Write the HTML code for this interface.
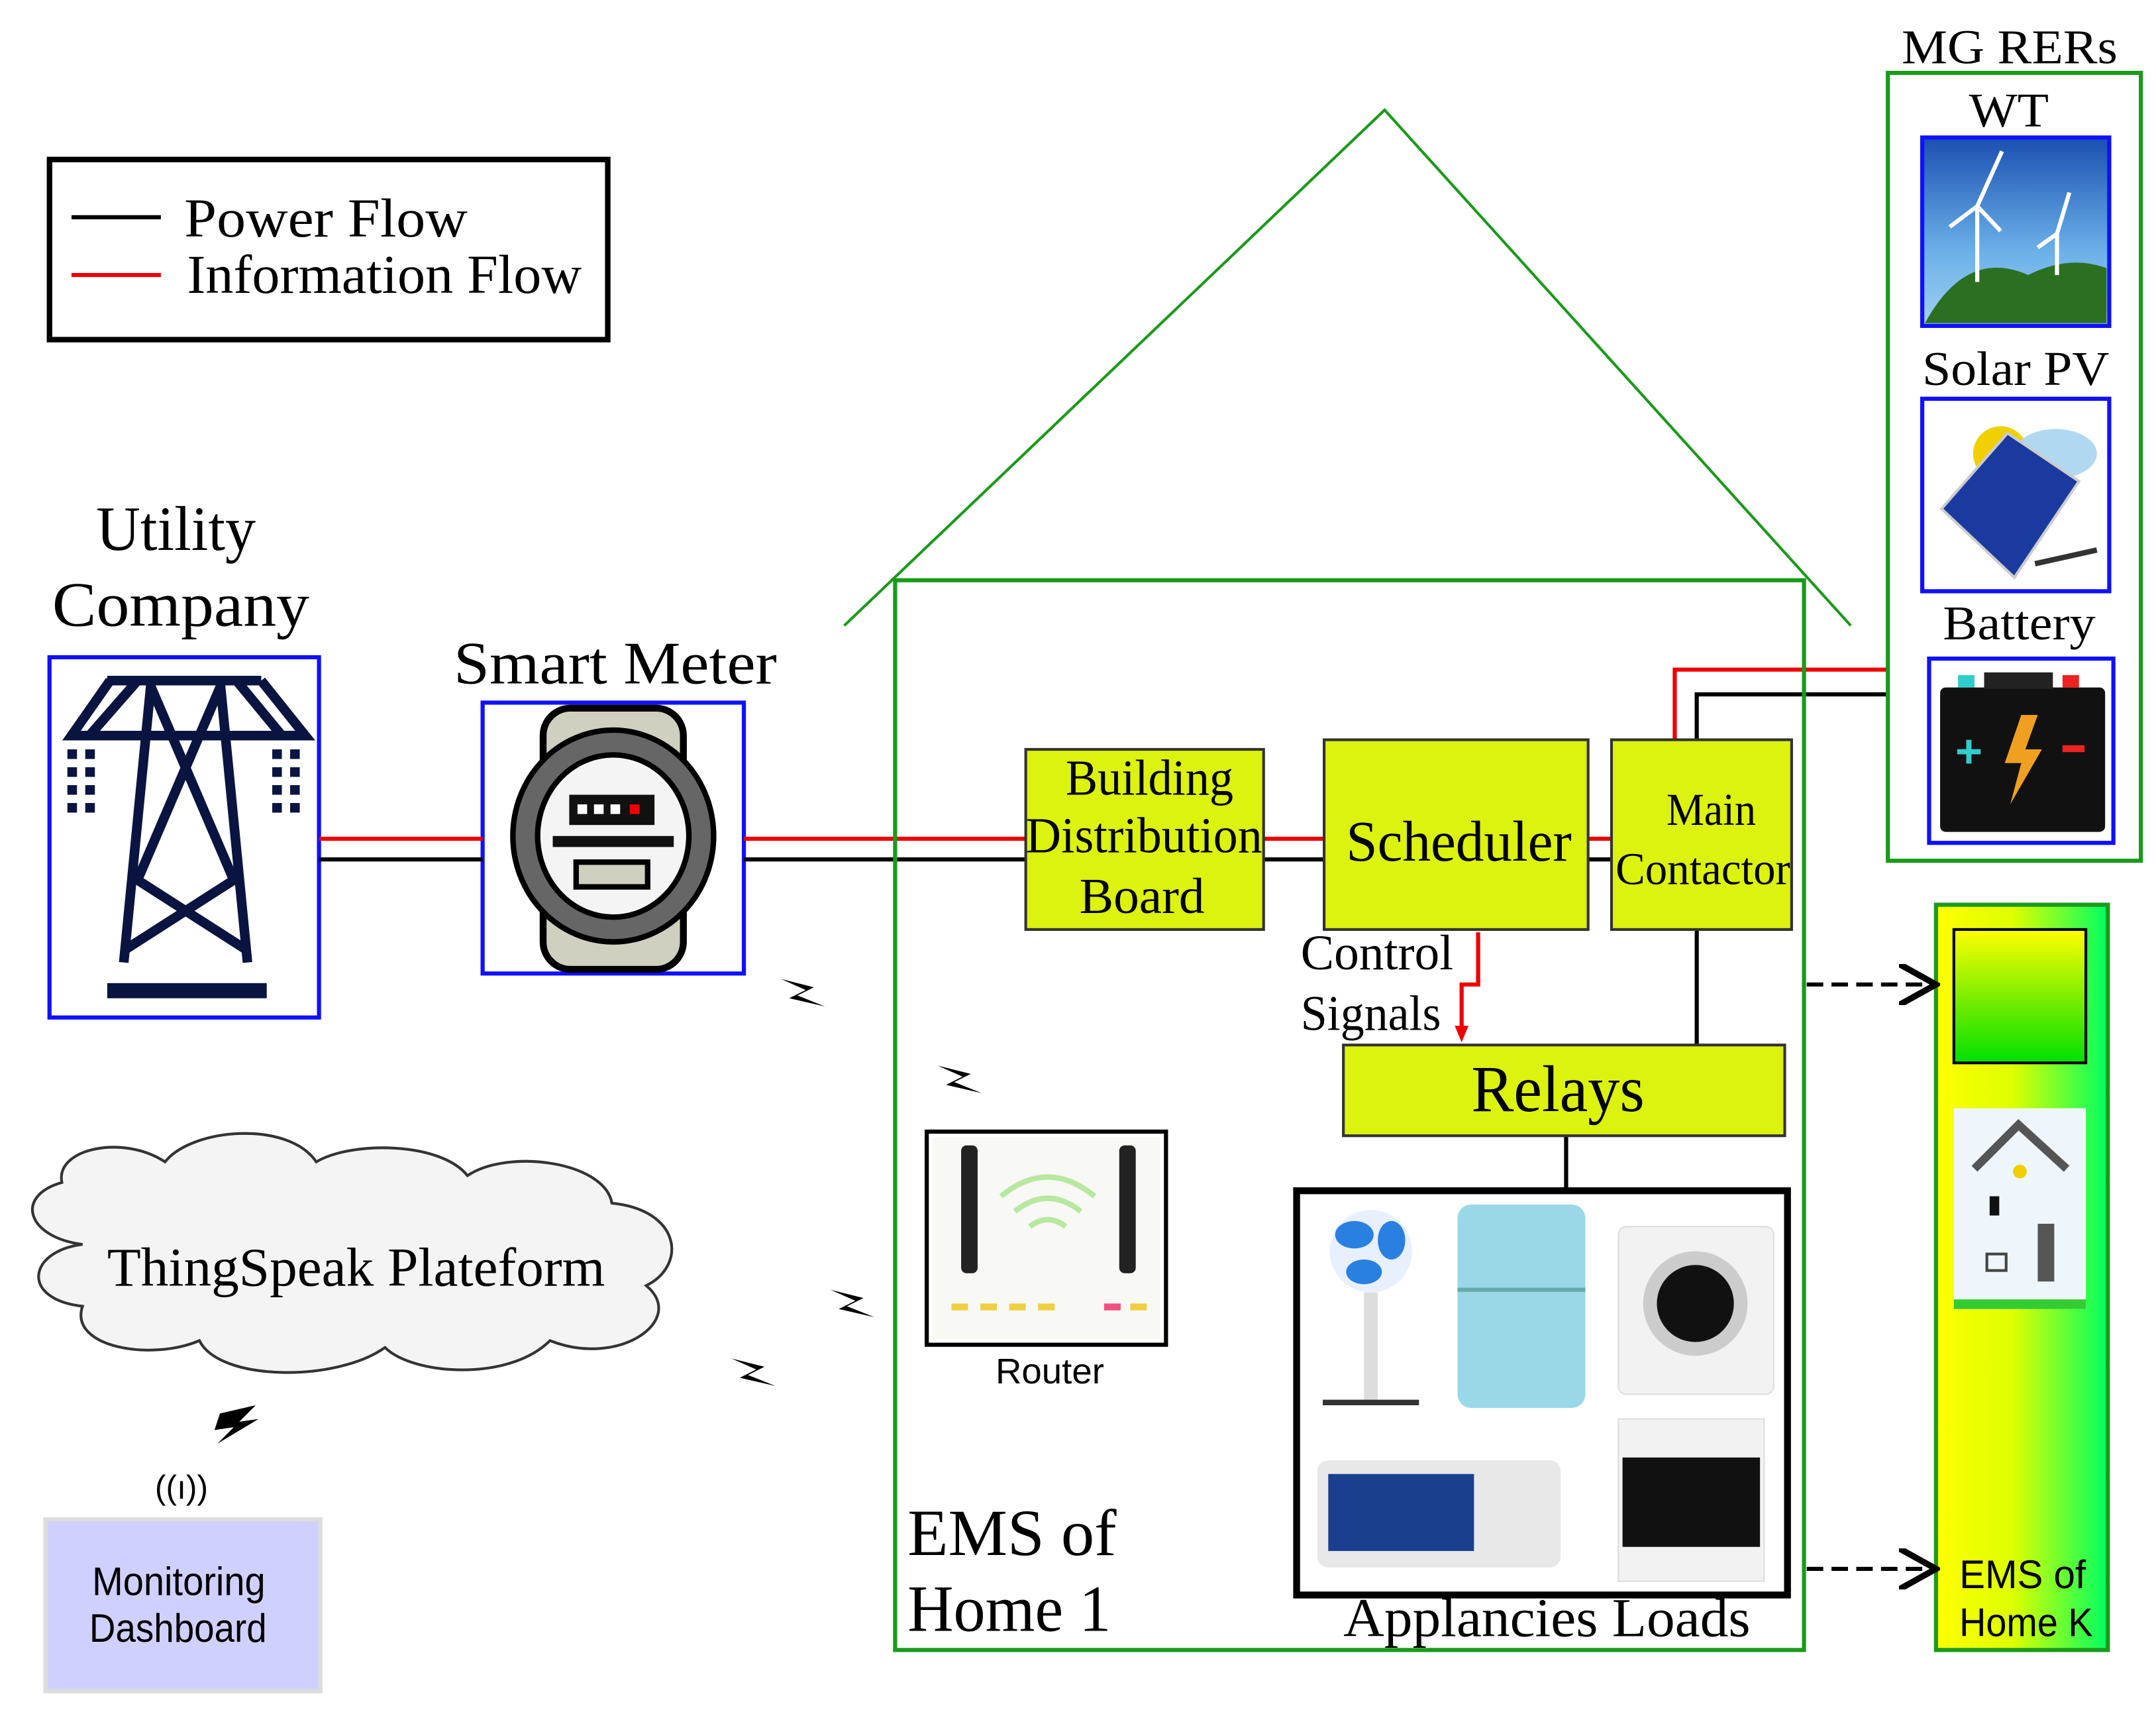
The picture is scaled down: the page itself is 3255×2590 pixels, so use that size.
<!DOCTYPE html>
<html><head><meta charset="utf-8"><style>
html,body{margin:0;padding:0;background:#fff;}
svg{display:block;}
.s{font-family:"Liberation Serif",serif;fill:#000;}
.a{font-family:"Liberation Sans",sans-serif;fill:#000;}
</style></head><body>
<svg width="3255" height="2590" viewBox="0 0 1568 1248" preserveAspectRatio="none" xmlns="http://www.w3.org/2000/svg">
<defs>
<linearGradient id="gk" x1="0" y1="0" x2="1" y2="0"><stop offset="0" stop-color="#ffff00"/><stop offset="0.45" stop-color="#ddff00"/><stop offset="1" stop-color="#00ff60"/></linearGradient>
<linearGradient id="gs" x1="0" y1="0" x2="0" y2="1"><stop offset="0" stop-color="#ffff00"/><stop offset="0.5" stop-color="#80ee00"/><stop offset="1" stop-color="#00e000"/></linearGradient>
<linearGradient id="sky" x1="0" y1="0" x2="0" y2="1"><stop offset="0" stop-color="#1a4fb0"/><stop offset="0.6" stop-color="#6ab0e8"/><stop offset="1" stop-color="#a0d0f0"/></linearGradient>
<marker id="ar" markerWidth="10" markerHeight="10" refX="8" refY="5" orient="auto"><path d="M0,0 L9,5 L0,10" fill="none" stroke="#000" stroke-width="1.5"/></marker>
</defs>

<!-- legend -->
<rect x="36" y="116" width="406" height="131" fill="none" stroke="#000" stroke-width="4"/>
<line x1="52" y1="158" x2="117" y2="158" stroke="#000" stroke-width="3"/>
<line x1="52" y1="200" x2="117" y2="200" stroke="#e00" stroke-width="3"/>
<text class="s" x="134" y="172" font-size="40" textLength="206" lengthAdjust="spacingAndGlyphs">Power Flow</text>
<text class="s" x="136" y="213" font-size="40" textLength="287" lengthAdjust="spacingAndGlyphs">Information Flow</text>

<!-- utility -->
<text class="s" x="70" y="400" font-size="46" textLength="116" lengthAdjust="spacingAndGlyphs">Utility</text>
<text class="s" x="38" y="455" font-size="46" textLength="187" lengthAdjust="spacingAndGlyphs">Company</text>
<rect x="36" y="478" width="196" height="262" fill="#fff" stroke="#1010ff" stroke-width="3"/>
<g stroke="#0a1440" stroke-width="7" fill="none">
<line x1="78" y1="495" x2="190" y2="495"/>
<path d="M80,495 L52,535 L222,535 L190,495"/>
<line x1="65" y1="535" x2="100" y2="495"/><line x1="205" y1="535" x2="172" y2="495"/>
<path d="M110,495 L90,700 M160,495 L180,700"/>
<path d="M110,500 L170,640 L92,690 M160,500 L100,640 L178,690"/>
</g>
<rect x="78" y="715" width="116" height="11" fill="#0a1440"/>
<g fill="#0a1440">
<rect x="49" y="545" width="7" height="7"/><rect x="62" y="545" width="7" height="7"/>
<rect x="49" y="558" width="7" height="7"/><rect x="62" y="558" width="7" height="7"/>
<rect x="49" y="571" width="7" height="7"/><rect x="62" y="571" width="7" height="7"/>
<rect x="49" y="584" width="7" height="7"/><rect x="62" y="584" width="7" height="7"/>
<rect x="198" y="545" width="7" height="7"/><rect x="211" y="545" width="7" height="7"/>
<rect x="198" y="558" width="7" height="7"/><rect x="211" y="558" width="7" height="7"/>
<rect x="198" y="571" width="7" height="7"/><rect x="211" y="571" width="7" height="7"/>
<rect x="198" y="584" width="7" height="7"/><rect x="211" y="584" width="7" height="7"/>
</g>

<!-- smart meter -->
<text class="s" x="330" y="497" font-size="44" textLength="235" lengthAdjust="spacingAndGlyphs">Smart Meter</text>
<rect x="351" y="511" width="190" height="197" fill="#fff" stroke="#1010ff" stroke-width="3"/>
<rect x="395" y="515" width="102" height="190" rx="20" fill="#d0d0c0" stroke="#000" stroke-width="5"/>
<ellipse cx="446" cy="608" rx="73" ry="77" fill="#666" stroke="#000" stroke-width="4"/>
<ellipse cx="446" cy="608" rx="55" ry="59" fill="#f4f4f4" stroke="#000" stroke-width="4"/>
<rect x="414" y="578" width="62" height="22" fill="#111"/>
<rect x="420" y="585" width="7" height="7" fill="#fff"/><rect x="432" y="585" width="7" height="7" fill="#fff"/><rect x="444" y="585" width="7" height="7" fill="#fff"/><rect x="458" y="585" width="7" height="7" fill="#e00"/>
<rect x="402" y="608" width="88" height="8" fill="#111"/>
<rect x="419" y="627" width="52" height="18" fill="#d0d0c0" stroke="#000" stroke-width="4"/>

<!-- main lines -->
<g stroke-width="3">
<line x1="232" y1="610" x2="351" y2="610" stroke="#e00"/>
<line x1="232" y1="625" x2="351" y2="625" stroke="#000"/>
<line x1="541" y1="610" x2="746" y2="610" stroke="#e00"/>
<line x1="541" y1="625" x2="746" y2="625" stroke="#000"/>
<line x1="919" y1="610" x2="963" y2="610" stroke="#e00"/>
<line x1="919" y1="625" x2="963" y2="625" stroke="#000"/>
<line x1="1155" y1="610" x2="1172" y2="610" stroke="#e00"/>
<line x1="1155" y1="625" x2="1172" y2="625" stroke="#000"/>
<polyline points="1218,538 1218,487 1373,487" fill="none" stroke="#e00"/>
<polyline points="1234,538 1234,505 1373,505" fill="none" stroke="#000"/>
<line x1="1234" y1="676" x2="1234" y2="760" stroke="#000"/>
<line x1="1139" y1="826" x2="1139" y2="866" stroke="#000"/>
</g>

<!-- house -->
<polyline points="614,455 1007,80 1346,455" fill="none" stroke="#1a9a1a" stroke-width="2"/>
<rect x="651" y="422" width="661" height="778" fill="none" stroke="#1a9a1a" stroke-width="3"/>

<!-- blocks -->
<rect x="746" y="545" width="173" height="131" fill="#dcf20f" stroke="#333" stroke-width="2"/>
<text class="s" x="775" y="578" font-size="37" textLength="122" lengthAdjust="spacingAndGlyphs">Building</text>
<text class="s" x="746" y="620" font-size="37" textLength="172" lengthAdjust="spacingAndGlyphs">Distribution</text>
<text class="s" x="785" y="664" font-size="37" textLength="91" lengthAdjust="spacingAndGlyphs">Board</text>
<rect x="963" y="538" width="192" height="138" fill="#dcf20f" stroke="#333" stroke-width="2"/>
<text class="s" x="979" y="626" font-size="42" textLength="164" lengthAdjust="spacingAndGlyphs">Scheduler</text>
<rect x="1172" y="538" width="131" height="138" fill="#dcf20f" stroke="#333" stroke-width="2"/>
<text class="s" x="1212" y="600" font-size="33" textLength="65" lengthAdjust="spacingAndGlyphs">Main</text>
<text class="s" x="1175" y="643" font-size="33" textLength="127" lengthAdjust="spacingAndGlyphs">Contactor</text>
<rect x="977" y="760" width="321" height="66" fill="#dcf20f" stroke="#333" stroke-width="2"/>
<text class="s" x="1070" y="808" font-size="48" textLength="126" lengthAdjust="spacingAndGlyphs">Relays</text>

<text class="s" x="946" y="705" font-size="36" textLength="111" lengthAdjust="spacingAndGlyphs">Control</text>
<text class="s" x="946" y="749" font-size="36" textLength="102" lengthAdjust="spacingAndGlyphs">Signals</text>
<polyline points="1075,678 1075,716 1063,716 1063,750" fill="none" stroke="#e00" stroke-width="3"/>
<polygon points="1058,746 1068,746 1063,758" fill="#e00"/>

<!-- router -->
<rect x="674" y="823" width="174" height="155" fill="#fff" stroke="#000" stroke-width="3"/>
<rect x="678" y="827" width="166" height="147" fill="#f8f8f4"/>
<rect x="699" y="833" width="12" height="93" rx="4" fill="#222"/>
<rect x="814" y="833" width="12" height="93" rx="4" fill="#222"/>
<g fill="none" stroke="#b8e8a0" stroke-width="4">
<path d="M728,870 Q762,842 796,870"/><path d="M738,881 Q762,862 786,881"/><path d="M749,892 Q762,882 775,892"/>
</g>
<g fill="#f0d040"><rect x="692" y="948" width="12" height="5"/><rect x="713" y="948" width="12" height="5"/><rect x="734" y="948" width="12" height="5"/><rect x="755" y="948" width="12" height="5"/></g>
<rect x="803" y="948" width="12" height="5" fill="#f05080"/><rect x="822" y="948" width="12" height="5" fill="#f0d040"/>
<text class="a" x="724" y="1006" font-size="26" textLength="79" lengthAdjust="spacingAndGlyphs">Router</text>

<!-- appliances -->
<rect x="943" y="866" width="357" height="294" fill="#fff" stroke="#000" stroke-width="5"/>
<circle cx="997" cy="910" r="30" fill="#e8f0ff"/>
<g fill="#2a80e0"><ellipse cx="985" cy="898" rx="14" ry="10"/><ellipse cx="1012" cy="902" rx="10" ry="14"/><ellipse cx="992" cy="925" rx="13" ry="9"/></g>
<rect x="992" y="940" width="10" height="80" fill="#ddd"/>
<line x1="962" y1="1020" x2="1032" y2="1020" stroke="#333" stroke-width="4"/>
<rect x="1060" y="876" width="93" height="148" rx="10" fill="#9ad8e8"/>
<line x1="1060" y1="938" x2="1153" y2="938" stroke="#6aa" stroke-width="3"/>
<rect x="1177" y="892" width="113" height="122" rx="6" fill="#f2f2f2" stroke="#ddd"/>
<circle cx="1233" cy="948" r="38" fill="#ccc"/><circle cx="1233" cy="948" r="28" fill="#111"/>
<rect x="958" y="1062" width="177" height="78" rx="8" fill="#e8e8e8"/>
<rect x="966" y="1072" width="106" height="56" fill="#1a3f8f"/>
<rect x="1177" y="1032" width="106" height="118" fill="#f2f2f2" stroke="#ddd"/>
<rect x="1180" y="1060" width="100" height="65" fill="#111"/>
<text class="s" x="977" y="1190" font-size="40" textLength="296" lengthAdjust="spacingAndGlyphs">Applancies Loads</text>

<text class="s" x="660" y="1131" font-size="48" textLength="152" lengthAdjust="spacingAndGlyphs">EMS of</text>
<text class="s" x="660" y="1186" font-size="48" textLength="148" lengthAdjust="spacingAndGlyphs">Home 1</text>

<!-- MG RERs -->
<text class="s" x="1383" y="46" font-size="35" textLength="157" lengthAdjust="spacingAndGlyphs">MG RERs</text>
<rect x="1373" y="53" width="184" height="573" fill="none" stroke="#1a9a1a" stroke-width="3"/>
<text class="s" x="1432" y="92" font-size="35" textLength="58" lengthAdjust="spacingAndGlyphs">WT</text>
<rect x="1398" y="100" width="136" height="137" fill="url(#sky)" stroke="#1010ff" stroke-width="3"/>
<path d="M1400,235 Q1430,180 1475,200 Q1505,185 1532,195 L1532,235 Z" fill="#2a7020"/>
<g stroke="#fff" stroke-width="3"><line x1="1438" y1="150" x2="1438" y2="205"/><line x1="1438" y1="150" x2="1456" y2="110"/><line x1="1438" y1="150" x2="1418" y2="165"/><line x1="1438" y1="150" x2="1455" y2="168"/>
<line x1="1496" y1="170" x2="1496" y2="200"/><line x1="1496" y1="170" x2="1505" y2="140"/><line x1="1496" y1="170" x2="1482" y2="180"/></g>
<text class="s" x="1398" y="280" font-size="35" textLength="136" lengthAdjust="spacingAndGlyphs">Solar PV</text>
<rect x="1398" y="290" width="136" height="140" fill="#fff" stroke="#1010ff" stroke-width="3"/>
<circle cx="1455" cy="330" r="20" fill="#f0d000"/>
<ellipse cx="1495" cy="330" rx="30" ry="18" fill="#b0d8f0"/>
<polygon points="1412,370 1460,315 1512,350 1465,420" fill="#1a3aa0" stroke="#ccc" stroke-width="2"/>
<line x1="1480" y1="410" x2="1525" y2="400" stroke="#333" stroke-width="4"/>
<text class="s" x="1413" y="465" font-size="35" textLength="111" lengthAdjust="spacingAndGlyphs">Battery</text>
<rect x="1403" y="479" width="134" height="134" fill="#fff" stroke="#1010ff" stroke-width="3"/>
<rect x="1411" y="500" width="120" height="105" rx="4" fill="#111"/>
<rect x="1443" y="489" width="50" height="12" fill="#222"/>
<rect x="1424" y="491" width="12" height="9" fill="#3cc"/><rect x="1500" y="491" width="12" height="9" fill="#e22"/>
<text x="1422" y="558" font-size="34" fill="#3cc" font-family="Liberation Sans" font-weight="bold">+</text>
<rect x="1500" y="542" width="16" height="5" fill="#e22"/>
<polygon points="1470,520 1458,555 1470,555 1462,585 1485,545 1473,545 1482,520" fill="#f0a020"/>

<!-- EMS K -->
<rect x="1408" y="658" width="125" height="542" fill="url(#gk)" stroke="#1a9a1a" stroke-width="3"/>
<rect x="1421" y="676" width="96" height="97" fill="url(#gs)" stroke="#000" stroke-width="2"/>
<rect x="1421" y="806" width="96" height="146" fill="#eef6fc"/>
<polyline points="1436,850 1468,818 1503,850" fill="none" stroke="#555" stroke-width="6"/>
<circle cx="1469" cy="852" r="5" fill="#f0d000"/>
<rect x="1447" y="870" width="7" height="14" fill="#111"/><rect x="1445" y="912" width="14" height="12" fill="none" stroke="#444" stroke-width="2"/>
<rect x="1482" y="890" width="12" height="42" fill="#555"/>
<rect x="1421" y="945" width="96" height="7" fill="#3c3"/>
<text class="a" x="1425" y="1155" font-size="29" textLength="92" lengthAdjust="spacingAndGlyphs">EMS of</text>
<text class="a" x="1425" y="1190" font-size="29" textLength="97" lengthAdjust="spacingAndGlyphs">Home K</text>
<line x1="1314" y1="716" x2="1405" y2="716" stroke="#000" stroke-width="3" stroke-dasharray="12,6" marker-end="url(#ar)"/>
<line x1="1314" y1="1141" x2="1405" y2="1141" stroke="#000" stroke-width="3" stroke-dasharray="12,6" marker-end="url(#ar)"/>

<!-- cloud -->
<path d="M60,905 C20,900 10,870 45,860 C40,835 90,825 120,845 C140,820 210,815 230,845 C255,830 320,830 340,855 C370,835 440,845 445,875 C495,880 500,920 470,935 C500,960 450,995 400,975 C370,1005 300,1000 280,980 C245,1005 160,1005 145,975 C110,990 50,980 60,950 C15,945 20,910 60,905 Z" fill="#f4f4f4" stroke="#333" stroke-width="2"/>
<text class="s" x="78" y="935" font-size="40" textLength="362" lengthAdjust="spacingAndGlyphs">ThingSpeak Plateform</text>

<!-- dashboard -->
<rect x="33" y="1105" width="200" height="125" fill="#d0d0ff" stroke="#ddd" stroke-width="3"/>
<text class="a" x="67" y="1160" font-size="29" textLength="126" lengthAdjust="spacingAndGlyphs">Monitoring</text>
<text class="a" x="65" y="1194" font-size="29" textLength="129" lengthAdjust="spacingAndGlyphs">Dashboard</text>
<text class="a" x="132" y="1090" font-size="24" text-anchor="middle">((ı))</text>

<!-- lightning -->
<g fill="#000">
<polygon points="568,712 592,718 580,724 600,732 574,726 586,720"/>
<polygon points="682,775 706,781 694,787 714,795 688,789 700,783"/>
<polygon points="604,938 628,944 616,950 636,958 610,952 622,946"/>
<polygon points="532,988 556,994 544,1000 564,1008 538,1002 550,996"/>
<polygon points="160,1028 186,1022 174,1034 188,1032 158,1050 170,1038 156,1040"/>
</g>
</svg>
</body></html>
